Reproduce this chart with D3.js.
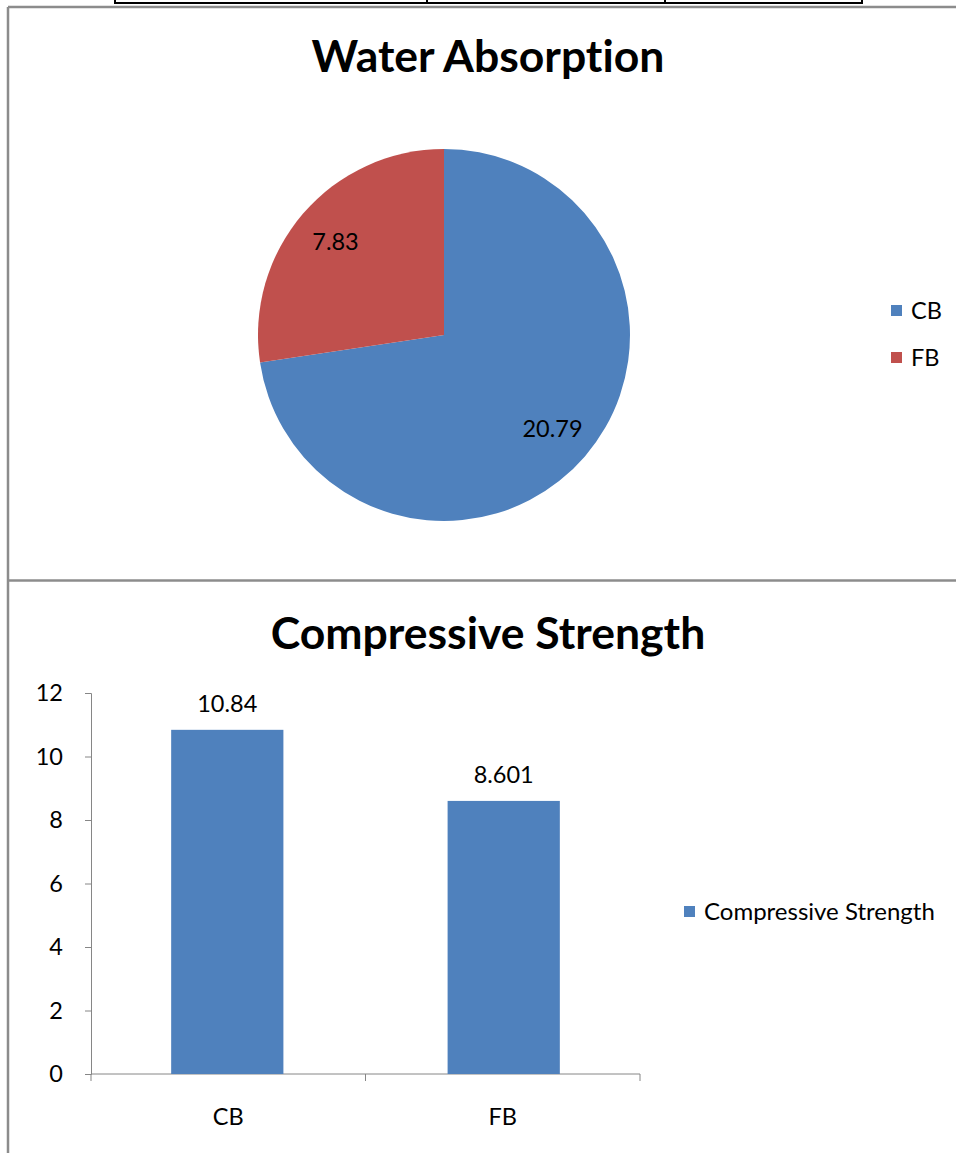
<!DOCTYPE html>
<html>
<head>
<meta charset="utf-8">
<script src="https://cdn.jsdelivr.net/npm/d3@7"></script>
<style>
  body { margin: 0; background: #fff; }
  text { font-family: Lato, "Open Sans", sans-serif; fill: #000; font-variant-ligatures: none; }
</style>
</head>
<body>
<svg id="chart" width="956" height="1153"></svg>
<script>
// pie data
const pieCategories = ["CB", "FB"];
const pieValues = [20.79, 7.83];
const pieColors = ["#4f81bd", "#c0504d"];

// bar data
const barCategories = ["CB", "FB"];
const barValues = [10.84, 8.601];
const barLabels = ["10.84", "8.601"];
const yTicks = [0, 2, 4, 6, 8, 10, 12];

const labelSize = 23.5;
const svg = d3.select("#chart");

// table fragment at the very top of the page
const tableX = [115, 427, 665, 862];
svg.append("line")
  .attr("x1", tableX[0]).attr("x2", tableX[3])
  .attr("y1", 3).attr("y2", 3)
  .attr("stroke", "#000").attr("stroke-width", 2);
tableX.forEach(x => {
  svg.append("line")
    .attr("x1", x).attr("x2", x)
    .attr("y1", 0).attr("y2", 4)
    .attr("stroke", "#000").attr("stroke-width", 2);
});

// chart frames
const frame = svg.append("g").attr("stroke", "#8c8c8c").attr("stroke-width", 2.5).attr("fill", "none");
frame.append("line").attr("x1", 8).attr("x2", 956).attr("y1", 7).attr("y2", 7);
frame.append("line").attr("x1", 8).attr("x2", 8).attr("y1", 7).attr("y2", 1153);
frame.append("line").attr("x1", 8).attr("x2", 956).attr("y1", 580.5).attr("y2", 580.5);

// ---------- Water Absorption pie ----------
svg.append("text")
  .attr("x", 488).attr("y", 72)
  .attr("text-anchor", "middle")
  .attr("font-size", 44.5).attr("font-weight", "bold")
  .text("Water Absorption");

const cx = 444, cy = 335, r = 186;
const pie = d3.pie().sort(null)(pieValues);
const arc = d3.arc().innerRadius(0).outerRadius(r);

const pieG = svg.append("g").attr("transform", `translate(${cx},${cy})`);
pieG.selectAll("path")
  .data(pie)
  .enter()
  .append("path")
  .attr("d", arc)
  .attr("fill", (d, i) => pieColors[i]);

const labelArc = d3.arc().innerRadius(r * 0.77).outerRadius(r * 0.77);
pieG.selectAll("text.val")
  .data(pie)
  .enter()
  .append("text")
  .attr("class", "val")
  .attr("transform", d => `translate(${labelArc.centroid(d)})`)
  .attr("text-anchor", "middle")
  .attr("dy", "0.35em")
  .attr("font-size", labelSize)
  .text(d => d.data);

const pieLegend = svg.append("g").attr("transform", "translate(891,305)");
pieCategories.forEach((c, i) => {
  const g = pieLegend.append("g").attr("transform", `translate(0,${i * 47})`);
  g.append("rect").attr("width", 11).attr("height", 11).attr("fill", pieColors[i]);
  g.append("text").attr("x", 20).attr("y", 6).attr("dy", "0.35em").attr("font-size", labelSize).text(c);
});

// ---------- Compressive Strength bars ----------
svg.append("text")
  .attr("x", 488).attr("y", 649)
  .attr("text-anchor", "middle")
  .attr("font-size", 44.5).attr("font-weight", "bold")
  .text("Compressive Strength");

const plotLeft = 91, plotRight = 640, plotTop = 693, plotBottom = 1074;

const y = d3.scaleLinear().domain([0, 12]).range([plotBottom, plotTop]);
const xCat = d3.scaleBand().domain(barCategories).range([plotLeft, plotRight]);
const xBar = d3.scaleBand().domain(barCategories).range([plotLeft, plotRight])
  .paddingInner(0.594).paddingOuter(0.29);

// y axis
const yAxis = svg.append("g")
  .attr("transform", `translate(${plotLeft},0)`)
  .call(d3.axisLeft(y).tickValues(yTicks).tickSize(6).tickPadding(22));
yAxis.select(".domain").attr("stroke", "#868686");
yAxis.selectAll(".tick line").attr("stroke", "#868686");
yAxis.selectAll(".tick text").attr("font-size", labelSize).attr("fill", "#000")
  .style("font-family", "Lato, sans-serif");

// x axis with ticks on the category boundaries
const xAxisG = svg.append("g").attr("transform", `translate(0,${plotBottom})`);
xAxisG.append("line")
  .attr("x1", plotLeft).attr("x2", plotRight)
  .attr("stroke", "#868686");
const boundaries = [plotLeft].concat(barCategories.map(c => xCat(c) + xCat.bandwidth()));
xAxisG.selectAll("line.tick")
  .data(boundaries)
  .enter()
  .append("line")
  .attr("class", "tick")
  .attr("x1", d => d).attr("x2", d => d)
  .attr("y1", 0).attr("y2", 7)
  .attr("stroke", "#868686");
xAxisG.selectAll("text")
  .data(barCategories)
  .enter()
  .append("text")
  .attr("x", d => xCat(d) + xCat.bandwidth() / 2)
  .attr("y", 43)
  .attr("dy", "0.35em")
  .attr("text-anchor", "middle")
  .attr("font-size", labelSize)
  .text(d => d);

// bars
svg.selectAll("rect.bar")
  .data(barValues)
  .enter()
  .append("rect")
  .attr("class", "bar")
  .attr("x", (d, i) => xBar(barCategories[i]))
  .attr("y", d => y(d))
  .attr("width", xBar.bandwidth())
  .attr("height", d => plotBottom - y(d))
  .attr("fill", "#4f81bd");

// value labels
svg.selectAll("text.barval")
  .data(barValues)
  .enter()
  .append("text")
  .attr("class", "barval")
  .attr("x", (d, i) => xBar(barCategories[i]) + xBar.bandwidth() / 2)
  .attr("y", d => y(d) - 26)
  .attr("dy", "0.35em")
  .attr("text-anchor", "middle")
  .attr("font-size", labelSize)
  .text((d, i) => barLabels[i]);

// legend
const barLegend = svg.append("g").attr("transform", "translate(684,906)");
barLegend.append("rect").attr("width", 11).attr("height", 11).attr("fill", "#4f81bd");
barLegend.append("text").attr("x", 20).attr("y", 6).attr("dy", "0.35em")
  .attr("font-size", 24).text("Compressive Strength");
</script>
</body>
</html>
